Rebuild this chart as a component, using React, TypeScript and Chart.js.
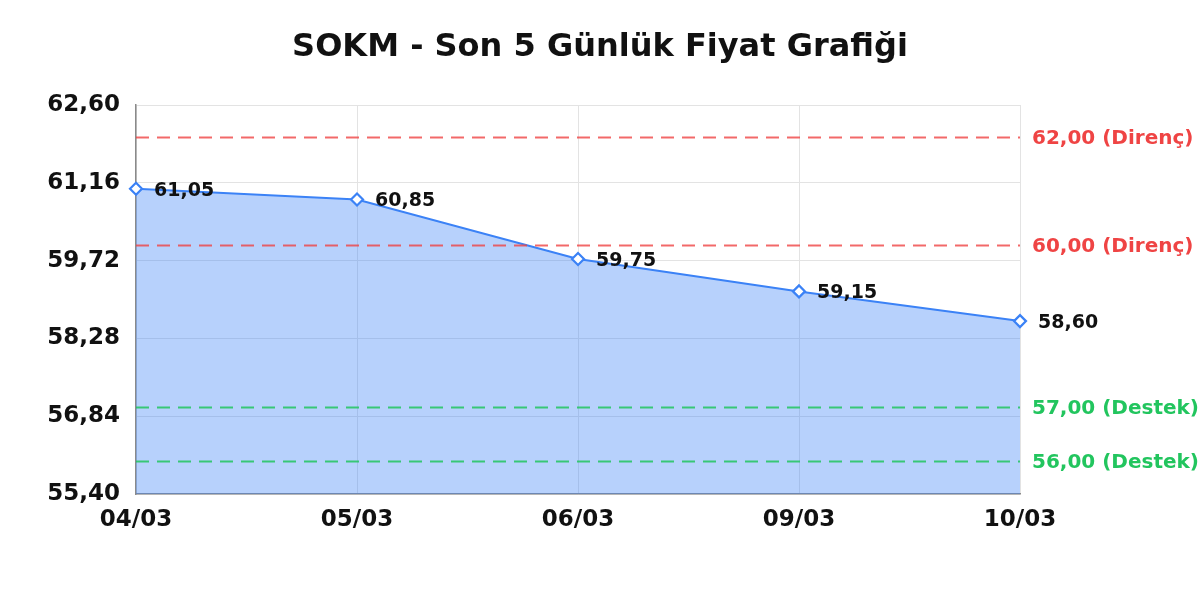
import React, { useEffect, useRef } from "react";
import { Chart, registerables } from "chart.js";

Chart.register(...registerables);

const TITLE = "SOKM - Son 5 Günlük Fiyat Grafiği";
const categories = ["04/03", "05/03", "06/03", "09/03", "10/03"];
const prices = [61.05, 60.85, 59.75, 59.15, 58.6];
const yTicks = [55.4, 56.84, 58.28, 59.72, 61.16, 62.6];
const resistanceLevels = [62.0, 60.0];
const supportLevels = [57.0, 56.0];

const FONT = "'DejaVu Sans', sans-serif";
const fmt = (v: number) => v.toFixed(2).replace(".", ",");

const titlePlugin = {
  id: "centerTitle",
  afterDraw(chart: any) {
    const { ctx, width } = chart;
    ctx.save();
    ctx.fillStyle = "#111";
    ctx.font = `bold 32px ${FONT}`;
    ctx.textAlign = "center";
    ctx.textBaseline = "middle";
    ctx.fillText(TITLE, width / 2, 48);
    ctx.restore();
  },
};

const levelsPlugin = {
  id: "levels",
  afterDatasetsDraw(chart: any) {
    const { ctx, chartArea } = chart;
    const y = chart.scales.y;
    const draw = (v: number, lineColor: string, textColor: string, label: string) => {
      const py = y.getPixelForValue(v);
      ctx.save();
      ctx.strokeStyle = lineColor;
      ctx.lineWidth = 2;
      ctx.setLineDash([13, 8]);
      ctx.beginPath();
      ctx.moveTo(chartArea.left, py);
      ctx.lineTo(chartArea.right, py);
      ctx.stroke();
      ctx.setLineDash([]);
      ctx.fillStyle = textColor;
      ctx.font = `bold 20px ${FONT}`;
      ctx.textAlign = "left";
      ctx.textBaseline = "middle";
      ctx.fillText(`${fmt(v)} (${label})`, chartArea.right + 12, py + 1);
      ctx.restore();
    };
    resistanceLevels.forEach((v) => draw(v, "rgba(239,68,68,0.8)", "#ef4444", "Direnç"));
    supportLevels.forEach((v) => draw(v, "rgba(34,197,94,0.85)", "#22c55e", "Destek"));
  },
};

const valueLabelsPlugin = {
  id: "valueLabels",
  afterDatasetsDraw(chart: any) {
    const { ctx } = chart;
    const meta = chart.getDatasetMeta(0);
    ctx.save();
    ctx.fillStyle = "#111";
    ctx.font = `bold 19px ${FONT}`;
    ctx.textAlign = "left";
    ctx.textBaseline = "middle";
    meta.data.forEach((pt: any, i: number) => {
      ctx.fillText(fmt(prices[i]), pt.x + 18, pt.y + 2);
    });
    ctx.restore();
  },
};

export default function App() {
  const ref = useRef<HTMLCanvasElement>(null);
  useEffect(() => {
    if (!ref.current) return;
    const chart = new Chart(ref.current, {
      type: "line",
      data: {
        labels: categories,
        datasets: [
          {
            data: prices,
            borderColor: "#3b82f6",
            borderWidth: 2,
            backgroundColor: "rgba(59,130,246,0.37)",
            fill: "start",
            tension: 0,
            pointStyle: "rectRot",
            pointRadius: 6,
            pointBorderWidth: 2.2,
            pointBackgroundColor: "#ffffff",
            pointBorderColor: "#3b82f6",
          },
        ],
      },
      options: {
        animation: false,
        responsive: true,
        maintainAspectRatio: false,
        layout: { padding: { left: 0, right: 180, top: 105, bottom: 0 } },
        plugins: {
          legend: { display: false },
          tooltip: { enabled: false },
          title: { display: false },
        },
        scales: {
          x: {
            offset: false,
            grid: { color: "#e3e3e3", drawTicks: false },
            border: { color: "#8a8a8a", width: 1.5 },
            ticks: {
              color: "#111",
              padding: 12,
              maxRotation: 0,
              font: { family: FONT, size: 23, weight: "bold", lineHeight: 1.2 },
            },
            afterFit: (s: any) => {
              s.height = 106;
            },
          },
          y: {
            min: 55.4,
            max: 62.6,
            grid: { color: "#e3e3e3", drawTicks: false },
            border: { color: "#8a8a8a", width: 1.5 },
            afterBuildTicks: (s: any) => {
              s.ticks = yTicks.map((v) => ({ value: v }));
            },
            afterFit: (s: any) => {
              s.width = 136;
            },
            ticks: {
              color: "#111",
              padding: 16,
              font: { family: FONT, size: 23, weight: "bold" },
              callback: (v: any) => fmt(Number(v)),
            },
          },
        },
      },
      plugins: [levelsPlugin, valueLabelsPlugin, titlePlugin],
    });
    return () => chart.destroy();
  }, []);
  return (
    <div style={{ position: "fixed", left: 0, top: 0, width: 1200, height: 600 }}>
      <canvas ref={ref} />
    </div>
  );
}
